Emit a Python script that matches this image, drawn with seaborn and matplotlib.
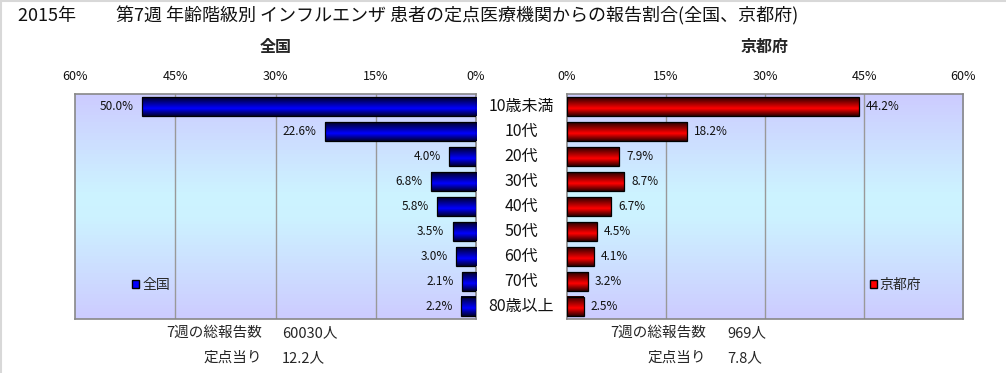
import numpy as np
import pandas as pd
import matplotlib
matplotlib.use("Agg")
import matplotlib.pyplot as plt
import matplotlib.transforms as mtransforms
from matplotlib.colors import LinearSegmentedColormap
from matplotlib.patches import Patch
from matplotlib.lines import Line2D
import seaborn as sns

# data
age_groups = ["10歳未満", "10代", "20代", "30代", "40代", "50代", "60代", "70代", "80歳以上"]
zenkoku = [50.0, 22.6, 4.0, 6.8, 5.8, 3.5, 3.0, 2.1, 2.2]
kyoto = [44.2, 18.2, 7.9, 8.7, 6.7, 4.5, 4.1, 3.2, 2.5]
x_ticks = [0, 15, 30, 45, 60]
title = "2015年　　 第7週 年齢階級別 インフルエンザ 患者の定点医療機関からの報告割合(全国、京都府)"
footer_left = [("7週の総報告数", "60030人"), ("定点当り", "12.2人")]
footer_right = [("7週の総報告数", "969人"), ("定点当り", "7.8人")]

sns.set_theme(style="white")
plt.rcParams['font.family'] = ['Noto Sans CJK JP', 'DejaVu Sans']

fig = plt.figure(figsize=(10.06, 3.73), dpi=100)
W, H = 1006, 373


def px_axes(x0, x1, y0, y1):
    return fig.add_axes([x0 / W, 1 - y1 / H, (x1 - x0) / W, (y1 - y0) / H])


ax_l = px_axes(75, 476, 94, 319)
ax_r = px_axes(567, 963, 94, 319)

# background gradient: lavender -> pale cyan -> lavender
bg_cmap = LinearSegmentedColormap.from_list(
    "bg", [(0, "#ccccff"), (0.45, "#ccf4ff"), (0.55, "#ccf2ff"), (1, "#ccccff")])
blue_cmap = LinearSegmentedColormap.from_list(
    "bl", [(0, "#000028"), (0.6, "#0000ff"), (1, "#000030")])
red_cmap = LinearSegmentedColormap.from_list(
    "rd", [(0, "#280000"), (0.6, "#ff0000"), (1, "#300000")])
grad = np.linspace(0, 1, 64).reshape(-1, 1)

panels = [
    (ax_l, zenkoku, blue_cmap, "#0000ff", "全国", True),
    (ax_r, kyoto, red_cmap, "#ff0000", "京都府", False),
]

for ax, vals, cmap, col, name, flip in panels:
    df = pd.DataFrame({"age": age_groups, "pct": vals})
    sns.barplot(data=df, x="pct", y="age", orient="h", ax=ax, color=col,
                width=0.76, zorder=3)
    ax.imshow(grad, cmap=bg_cmap, extent=[0, 1, 0, 1], transform=ax.transAxes,
              aspect="auto", zorder=0)
    for p in ax.patches:
        x0, y0 = p.get_x(), p.get_y()
        w, h = p.get_width(), p.get_height()
        ax.imshow(grad, cmap=cmap, extent=[x0, x0 + w, y0 + h, y0],
                  aspect="auto", zorder=3)
        p.set_facecolor("none")
        p.set_edgecolor("black")
        p.set_linewidth(0.9)
        p.set_zorder(4)
    for i, v in enumerate(vals):
        if flip:
            ax.annotate(f"{v:.1f}%", (v, i), xytext=(-6, 0), textcoords="offset points",
                        ha="right", va="center", fontsize=8.5, color="#111111")
        else:
            ax.annotate(f"{v:.1f}%", (v, i), xytext=(5, 0), textcoords="offset points",
                        ha="left", va="center", fontsize=8.5, color="#111111")
    if flip:
        ax.set_xlim(60, 0)
    else:
        ax.set_xlim(0, 60)
    ax.set_ylim(len(age_groups) - 0.5, -0.5)
    ax.set_xticks(x_ticks)
    ax.set_xticklabels([f"{t}%" for t in x_ticks], fontsize=9)
    ax.xaxis.tick_top()
    ax.tick_params(axis="x", length=0, pad=8, colors="#111111")
    ax.set_yticks([])
    ax.set_xlabel("")
    ax.set_ylabel("")
    for t in x_ticks[1:-1]:
        ax.axvline(t, color="#999999", linewidth=1, zorder=1)
    for s in ax.spines.values():
        s.set_color("#888888")
        s.set_linewidth(1.2)
    ax.set_title(name, fontsize=11.5, fontweight="bold", pad=30)
    leg = ax.legend(handles=[Patch(facecolor=col, edgecolor="black", label=name)],
                    loc="center left", frameon=False, fontsize=10,
                    bbox_to_anchor=(0.143 if flip else 0.765, 0.15),
                    handlelength=0.5, handleheight=0.5, handletextpad=0.2,
                    borderpad=0, borderaxespad=0)

# category labels between the two panels
trans = mtransforms.blended_transform_factory(fig.transFigure, ax_l.transData)
for i, lab in enumerate(age_groups):
    fig.text(521 / W, i, lab, transform=trans, ha="center", va="center",
             fontsize=11.5, color="#111111")

fig.text(18 / W, 1 - 16 / H, title, ha="left", va="center", fontsize=13,
         color="#111111")

for (lab_a, val_a), yy in zip(footer_left, [333, 358]):
    fig.text(262 / W, 1 - yy / H, lab_a, ha="right", va="center", fontsize=10.5)
    fig.text(282 / W, 1 - yy / H, val_a, ha="left", va="center", fontsize=10.5)
for (lab_a, val_a), yy in zip(footer_right, [333, 358]):
    fig.text(706 / W, 1 - yy / H, lab_a, ha="right", va="center", fontsize=10.5)
    fig.text(727 / W, 1 - yy / H, val_a, ha="left", va="center", fontsize=10.5)

# thin frame at the left and top edge
fig.add_artist(Line2D([0.001, 0.001], [0, 1], color="#d8d8d8", lw=1.5))
fig.add_artist(Line2D([0, 1], [0.998, 0.998], color="#d8d8d8", lw=1.5))

fig.savefig("out.png", dpi=100)
